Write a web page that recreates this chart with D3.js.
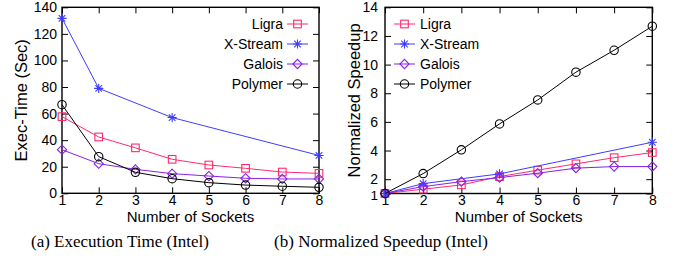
<!DOCTYPE html>
<html>
<head>
<meta charset="utf-8">
<script src="https://cdn.jsdelivr.net/npm/d3@7"></script>
<style>
	body { margin: 0; background: #fff; }
	svg text { font-family: "Liberation Sans", Arial, sans-serif; fill: #000; }
	svg text.caption { font-family: "Liberation Serif", "Times New Roman", serif; }
</style>
</head>
<body>
<svg id="chart" width="678" height="261"></svg>
<script>
// sockets on the x axis
var sockets = [1, 2, 3, 4, 5, 6, 7, 8];
var xstreamSockets = [1, 2, 4, 8];

// (a) execution time in seconds
var execLigra = [57.7, 42.4, 34.2, 25.6, 21.3, 18.8, 16.0, 15.0];
var execXStream = [131.7, 79.0, 57.0, 28.5];
var execGalois = [32.8, 22.3, 18.0, 14.8, 13.0, 11.3, 10.8, 10.8];
var execPolymer = [66.7, 27.6, 15.8, 11.0, 8.0, 6.2, 5.3, 4.5];

// (b) normalized speedup
var speedLigra = [1, 1.3, 1.6, 2.18, 2.63, 3.07, 3.5, 3.86];
var speedXStream = [1, 1.69, 2.37, 4.58];
var speedGalois = [1, 1.48, 1.83, 2.11, 2.42, 2.77, 2.88, 2.88];
var speedPolymer = [1, 2.39, 4.05, 5.86, 7.53, 9.47, 11.0, 12.68];

var execTicks = [0, 20, 40, 60, 80, 100, 120, 140];
var speedTicks = [1, 2, 4, 6, 8, 10, 12, 14];
var seriesNames = ['Ligra', 'X-Stream', 'Galois', 'Polymer'];

var colors = { 'Ligra': '#ff2a6d', 'X-Stream': '#3d3dff', 'Galois': '#8a1fe6', 'Polymer': '#000' };
var shapes = { 'Ligra': 'square', 'X-Stream': 'star', 'Galois': 'diamond', 'Polymer': 'circle' };

var svg = d3.select('#chart');

// draw one marker shape at (x, y)
function marker(g, name, x, y) {
	var c = colors[name], s = shapes[name];
	if (s === 'square') {
		g.append('rect').attr('x', x - 3.8).attr('y', y - 3.8).attr('width', 7.6).attr('height', 7.6)
			.attr('fill', 'none').attr('stroke', c).attr('stroke-width', 1.1);
	} else if (s === 'circle') {
		g.append('circle').attr('cx', x).attr('cy', y).attr('r', 4.2)
			.attr('fill', 'none').attr('stroke', c).attr('stroke-width', 1.1);
	} else if (s === 'diamond') {
		g.append('path').attr('d', 'M' + x + ',' + (y - 4.6) + 'L' + (x + 4.6) + ',' + y + 'L' + x + ',' + (y + 4.6) + 'L' + (x - 4.6) + ',' + y + 'Z')
			.attr('fill', 'none').attr('stroke', c).attr('stroke-width', 1.1);
	} else {
		var r = 4.6, d = 3.3;
		g.append('path').attr('d',
			'M' + (x - r) + ',' + y + 'L' + (x + r) + ',' + y +
			'M' + x + ',' + (y - r) + 'L' + x + ',' + (y + r) +
			'M' + (x - d) + ',' + (y - d) + 'L' + (x + d) + ',' + (y + d) +
			'M' + (x - d) + ',' + (y + d) + 'L' + (x + d) + ',' + (y - d))
			.attr('stroke', c).attr('stroke-width', 1.1);
	}
}

function panel(opt) {
	var x = d3.scaleLinear().domain([1, 8]).range([opt.left, opt.right]);
	var y = d3.scaleLinear().domain(opt.yDomain).range([opt.bottom, opt.top]);
	var g = svg.append('g');

	// ticks on all four sides, pointing inward
	g.append('g').attr('transform', 'translate(0,' + opt.bottom + ')')
		.call(d3.axisBottom(x).tickValues(sockets).tickSize(-6).tickPadding(2).tickFormat(d3.format('d')));
	g.append('g').attr('transform', 'translate(0,' + opt.top + ')')
		.call(d3.axisTop(x).tickValues(sockets).tickSize(-6).tickFormat(''));
	var yAxis = g.append('g').attr('transform', 'translate(' + opt.left + ',0)')
		.call(d3.axisLeft(y).tickValues(opt.ticks).tickSize(-6).tickPadding(opt.yPad).tickFormat(d3.format('d')));
	g.append('g').attr('transform', 'translate(' + opt.right + ',0)')
		.call(d3.axisRight(y).tickValues(opt.ticks).tickSize(-6).tickFormat(''));
	g.selectAll('.domain').remove();
	g.selectAll('.tick line').attr('stroke', '#000').attr('stroke-width', 1);
	g.selectAll('.tick text').attr('font-size', 14).attr('fill', '#000');
	// lowest label nudged down a little so it clears the one above
	if (opt.nudgeFirst) {
		yAxis.selectAll('.tick text').filter(function(d) { return d === opt.ticks[0]; })
			.attr('dy', '0.42em').attr('font-size', 13.5);
	}

	g.append('rect').attr('x', opt.left).attr('y', opt.top)
		.attr('width', opt.right - opt.left).attr('height', opt.bottom - opt.top)
		.attr('fill', 'none').attr('stroke', '#000').attr('stroke-width', 1.4);

	var line = d3.line().x(function(d) { return x(d[0]); }).y(function(d) { return y(d[1]); });

	opt.series.forEach(function(s) {
		var pts = s.xs.map(function(v, i) { return [v, s.values[i]]; });
		g.append('path').datum(pts).attr('d', line)
			.attr('fill', 'none').attr('stroke', colors[s.name]).attr('stroke-width', 1);
		pts.forEach(function(p) { marker(g, s.name, x(p[0]), y(p[1])); });
	});

	// legend
	seriesNames.forEach(function(name, i) {
		var ly = opt.legendTop + i * 20;
		g.append('line').attr('x1', opt.legendLine).attr('x2', opt.legendLine + 21)
			.attr('y1', ly).attr('y2', ly).attr('stroke', colors[name]).attr('stroke-width', 1);
		marker(g, name, opt.legendLine + 10.5, ly);
		g.append('text').attr('x', opt.legendText).attr('y', ly + 5)
			.attr('text-anchor', opt.legendAnchor).attr('font-size', 14).text(name);
	});

	g.append('text').attr('x', (opt.left + opt.right) / 2).attr('y', 222)
		.attr('text-anchor', 'middle').attr('font-size', 15).text('Number of Sockets');
	g.append('text').attr('transform', 'translate(' + opt.yLabelX + ',' + ((opt.top + opt.bottom) / 2) + ') rotate(-90)')
		.attr('text-anchor', 'middle').attr('font-size', 16.5).text(opt.yLabel);
	g.append('text').attr('class', 'caption').attr('x', opt.captionX).attr('y', 247)
		.attr('text-anchor', 'middle').attr('font-size', 17).text(opt.caption);
}

panel({
	left: 62, right: 319, top: 7.3, bottom: 193.3,
	yDomain: [0, 140], ticks: execTicks, yPad: 5,
	yLabel: 'Exec-Time (Sec)', yLabelX: 27, caption: '(a) Execution Time (Intel)', captionX: 120,
	legendTop: 24, legendLine: 287, legendText: 283, legendAnchor: 'end',
	series: [
		{ name: 'Ligra', xs: sockets, values: execLigra },
		{ name: 'X-Stream', xs: xstreamSockets, values: execXStream },
		{ name: 'Galois', xs: sockets, values: execGalois },
		{ name: 'Polymer', xs: sockets, values: execPolymer }
	]
});

panel({
	left: 385, right: 652.3, top: 7.3, bottom: 193.5,
	yDomain: [1, 14], ticks: speedTicks, yPad: 7, nudgeFirst: true,
	yLabel: 'Normalized Speedup', yLabelX: 360, caption: '(b) Normalized Speedup (Intel)', captionX: 381,
	legendTop: 24, legendLine: 394, legendText: 420, legendAnchor: 'start',
	series: [
		{ name: 'Ligra', xs: sockets, values: speedLigra },
		{ name: 'X-Stream', xs: xstreamSockets, values: speedXStream },
		{ name: 'Galois', xs: sockets, values: speedGalois },
		{ name: 'Polymer', xs: sockets, values: speedPolymer }
	]
});
</script>
</body>
</html>
